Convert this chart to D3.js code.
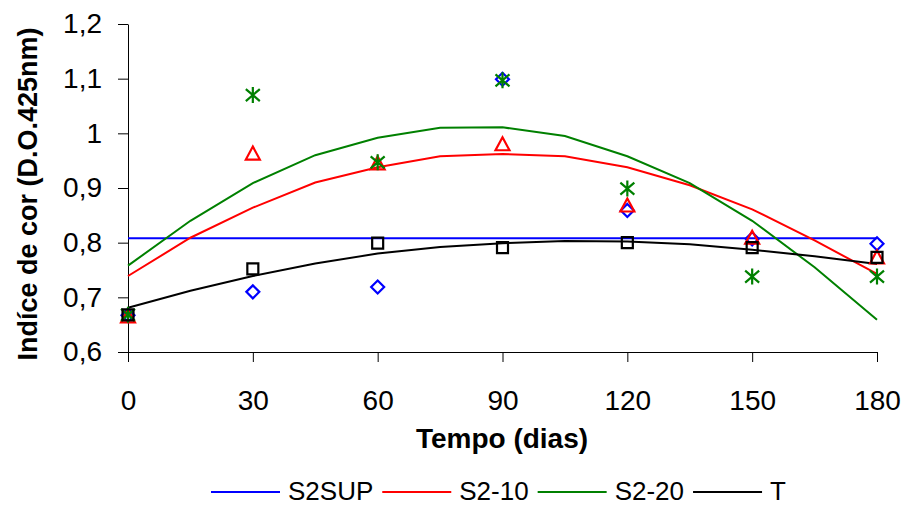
<!DOCTYPE html>
<html>
<head>
<meta charset="utf-8">
<script src="https://cdn.jsdelivr.net/npm/d3@7"></script>
<style>
  body { margin: 0; background: #fff; }
  svg text { font-family: "Liberation Sans", Arial, sans-serif; fill: #000; }
</style>
</head>
<body>
<svg width="910" height="506"></svg>
<script>
// dias de armazenamento
var days = [0, 30, 60, 90, 120, 150, 180];

// valores observados (indice de cor)
var s2sup = [0.667, 0.710, 0.719, 1.099, 0.859, 0.807, 0.798];
var s2_10 = [0.665, 0.963, 0.945, 0.980, 0.868, 0.809, 0.773];
var s2_20 = [0.668, 1.070, 0.947, 1.097, 0.899, 0.738, 0.738];
var testemunha = [0.668, 0.752, 0.799, 0.791, 0.800, 0.791, 0.773];

// linhas de tendencia
var trendDays = [0, 15, 30, 45, 60, 75, 90, 105, 120, 135, 150, 165, 180];
var trendS2sup = [0.808, 0.808, 0.808, 0.808, 0.808, 0.808, 0.808, 0.808, 0.808, 0.808, 0.808, 0.808, 0.808];
var trendS2_10 = [0.739, 0.809, 0.864, 0.910, 0.938, 0.958, 0.962, 0.958, 0.938, 0.905, 0.861, 0.804, 0.743];
var trendS2_20 = [0.758, 0.840, 0.909, 0.960, 0.992, 1.010, 1.011, 0.995, 0.958, 0.909, 0.840, 0.755, 0.659];
var trendT = [0.681, 0.712, 0.739, 0.762, 0.780, 0.792, 0.799, 0.803, 0.802, 0.797, 0.787, 0.775, 0.761];

var yTicks = [0.6, 0.7, 0.8, 0.9, 1.0, 1.1, 1.2];
var seriesNames = ["S2SUP", "S2-10", "S2-20", "T"];

var series = [
  {name: "S2SUP", color: "#0000ff", marker: "diamond", values: s2sup, trend: trendS2sup},
  {name: "S2-10", color: "#ff0000", marker: "triangle", values: s2_10, trend: trendS2_10},
  {name: "S2-20", color: "#008000", marker: "asterisk", values: s2_20, trend: trendS2_20},
  {name: "T", color: "#000000", marker: "square", values: testemunha, trend: trendT}
];

var svg = d3.select("svg");

var x = d3.scaleLinear().domain([0, 180]).range([128, 877]);
var y = d3.scaleLinear().domain([0.6, 1.2]).range([352, 24]);

var fmt = function(d) { return d3.format("~g")(d).replace(".", ","); };

// eixo y
var yAxis = svg.append("g")
    .attr("transform", "translate(128,0)")
    .call(d3.axisLeft(y).tickValues(yTicks).tickFormat(fmt).tickSize(10).tickPadding(16).tickSizeOuter(0));
yAxis.selectAll("text").style("font-size", "28px");

// eixo x
var xAxis = svg.append("g")
    .attr("transform", "translate(0,352)")
    .call(d3.axisBottom(x).tickValues(days).tickSize(10).tickPadding(28).tickSizeOuter(0));
xAxis.selectAll("text").style("font-size", "28px");

svg.selectAll(".domain, .tick line").attr("stroke", "#000").attr("stroke-width", 1);

// titulos
svg.append("text")
    .attr("x", 502).attr("y", 448)
    .attr("text-anchor", "middle")
    .style("font-size", "28px").style("font-weight", "bold")
    .text("Tempo (dias)");

svg.append("text")
    .attr("transform", "translate(37,194) rotate(-90)")
    .attr("text-anchor", "middle")
    .style("font-size", "27px").style("font-weight", "bold")
    .text("Indíce de cor (D.O.425nm)");

// linhas de tendencia
var line = d3.line()
    .x(function(d) { return x(d[0]); })
    .y(function(d) { return y(d[1]); });

series.forEach(function(s) {
  svg.append("path")
      .datum(d3.zip(trendDays, s.trend))
      .attr("d", line)
      .attr("fill", "none")
      .attr("stroke", s.color)
      .attr("stroke-width", 2);
});

// marcadores
function markerPath(type) {
  if (type == "diamond") return "M0,-6.5L6.5,0L0,6.5L-6.5,0Z";
  if (type == "square") return "M-5.5,-5.5H5.5V5.5H-5.5Z";
  if (type == "triangle") return "M0,-7L7,6H-7Z";
  // asterisco
  return "M0,-8V8M-7,-6L7,6M-7,6L7,-6";
}

series.forEach(function(s) {
  svg.append("g").selectAll("path")
      .data(d3.zip(days, s.values))
    .enter().append("path")
      .attr("transform", function(d) { return "translate(" + x(d[0]) + "," + y(d[1]) + ")"; })
      .attr("d", markerPath(s.marker))
      .attr("fill", "none")
      .attr("stroke", s.color)
      .attr("stroke-width", 2.2);
});

// legenda
var lx = 211;
var legend = svg.append("g");
series.forEach(function(s, i) {
  legend.append("line")
      .attr("x1", lx).attr("x2", lx + 69)
      .attr("y1", 492).attr("y2", 492)
      .attr("stroke", s.color).attr("stroke-width", 2);
  var t = legend.append("text")
      .attr("x", lx + 77).attr("y", 500)
      .style("font-size", "26px")
      .text(seriesNames[i]);
  lx = lx + 77 + t.node().getComputedTextLength() + 9;
});
</script>
</body>
</html>
